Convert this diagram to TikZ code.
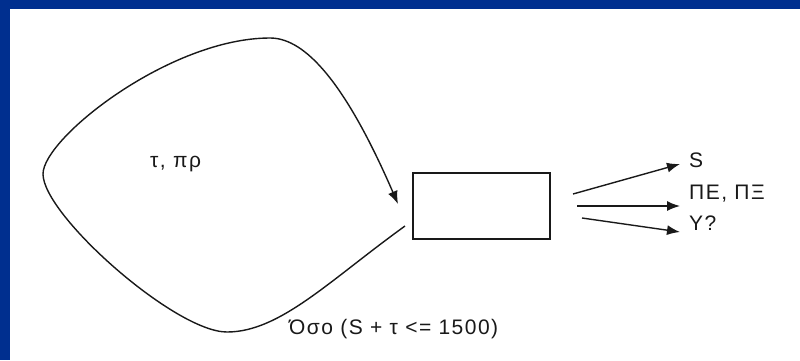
\documentclass[tikz,border=0pt]{standalone}
\usepackage{fontspec}
\setmainfont{Liberation Sans}[LetterSpace=7]
\usetikzlibrary{arrows.meta}
\definecolor{bandblue}{RGB}{0,47,143}
\definecolor{ink}{RGB}{25,25,25}
\begin{document}
\begin{tikzpicture}[x=1pt,y=-1pt,
  line/.style={draw=ink,line width=1.4pt},
  arr/.style={line,-{Latex[length=13pt,width=10pt]}},
  lbl/.style={inner sep=0pt,anchor=base west,font=\fontsize{21}{25}\selectfont,text=ink},
  boxstyle/.style={draw=ink,line width=1.4pt,minimum width=137pt,minimum height=66pt,inner sep=0pt}]
\useasboundingbox (0,0) rectangle (800,360);
\fill[white] (0,0) rectangle (800,360);
\fill[bandblue] (0,0) rectangle (800,9);
\fill[bandblue] (0,0) rectangle (10,360);
% process box
\node[boxstyle] (box) at (481.5,206) {};
% loop
\coordinate (ls) at (405,226);
\coordinate (le) at (398,204);
\draw[arr] (ls) .. controls (330,280) and (280,332) .. (227,332)
  .. controls (175,332) and (43,215) .. (43,174)
  .. controls (43,138) and (170,38) .. (270,38)
  .. controls (300,38) and (340,70) .. (le);
% labels
\node[lbl] (tp) at (150,167) {τ, πρ};
\node[lbl] (cond) at (289,334) {Όσο (S + τ <= 1500)};
\node[lbl] (oS) at (689,167) {S};
\node[lbl] (oP) at (689,199) {ΠΕ, ΠΞ};
\node[lbl] (oY) at (689,230) {Υ?};
% outputs
\coordinate (s1) at (573,194);
\coordinate (s2) at (577,206);
\coordinate (s3) at (582,218);
\coordinate (e1) at (680,164);
\coordinate (e2) at (680,206);
\coordinate (e3) at (680,232);
\draw[arr] (s1) -- (e1);
\draw[arr] (s2) -- (e2);
\draw[arr] (s3) -- (e3);
\end{tikzpicture}
\end{document}
